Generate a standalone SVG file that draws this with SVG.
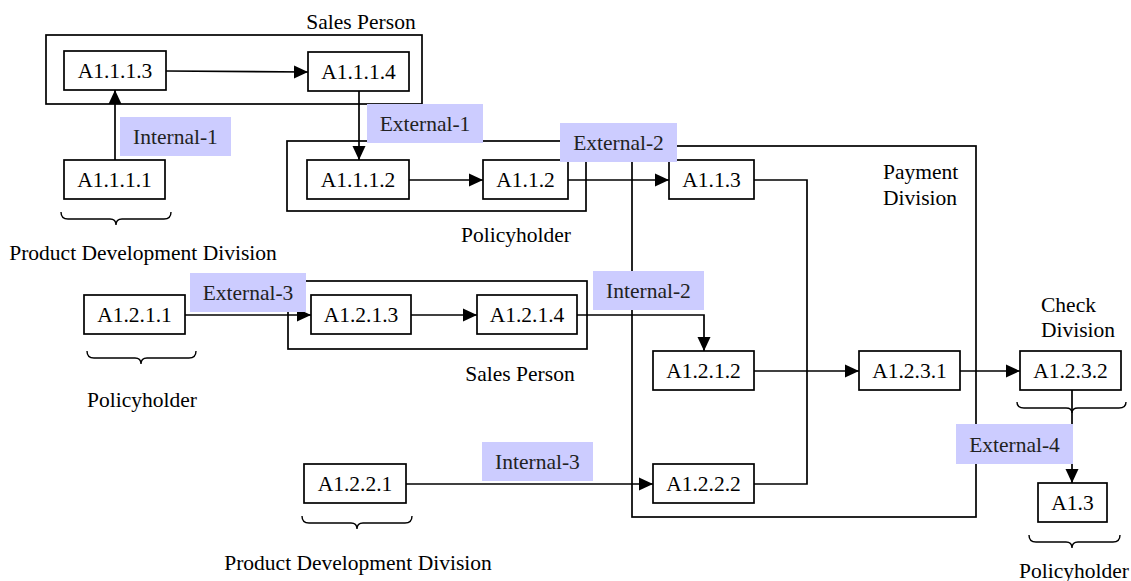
<svg xmlns="http://www.w3.org/2000/svg" width="1131" height="581" viewBox="0 0 1131 581" font-family="'Liberation Serif', 'DejaVu Serif', 'Times New Roman', serif" font-size="21.5">
<style>
text{font-family:'Liberation Serif','DejaVu Serif','Times New Roman',serif;font-size:21.5px;fill:#000}
.n rect{fill:#fff;stroke:#000;stroke-width:1.7}
.n text{text-anchor:middle}
.grp{fill:none;stroke:#000;stroke-width:1.7}
.lbl rect{fill:#ccccff;stroke:none}
.lbl text{text-anchor:middle;fill:#222}
.c{fill:none;stroke:#000;stroke-width:1.7}
.a{marker-end:url(#ah)}
.br{fill:none;stroke:#000;stroke-width:1.4}
.mid{text-anchor:middle}
</style>
<defs>
<marker id="ah" markerUnits="userSpaceOnUse" markerWidth="14" markerHeight="14" refX="14" refY="7" orient="auto">
<path d="M0,0.5 L14,7 L0,13.5 z" fill="#000"/>
</marker>
</defs>
<rect width="1131" height="581" fill="#fff"/>

<g id="groups">
<rect class="grp" x="46" y="35" width="376" height="69"/>
<rect class="grp" x="287" y="141" width="299" height="70"/>
<rect class="grp" x="288" y="281" width="299" height="68"/>
<rect class="grp" x="632" y="146" width="344" height="371"/>
</g>

<g id="connectors">
<path class="c a" d="M115,160 L115,90"/>
<path class="c a" d="M166,71 L308,72"/>
<path class="c a" d="M359,91 L359,160"/>
<path class="c a" d="M409,180 L483,180"/>
<path class="c a" d="M568,180 L669,180"/>
<path class="c" d="M754,180 L807,180 L807,371"/>
<path class="c" d="M754,484 L807,484 L807,371"/>
<path class="c a" d="M185,315 L311,315"/>
<path class="c a" d="M411,315 L477,315"/>
<path class="c a" d="M577,315 L704,315 L704,351"/>
<path class="c a" d="M754,371 L859,371"/>
<path class="c a" d="M960,371 L1020,371"/>
<path class="c a" d="M1072,390 L1072,483"/>
<path class="c a" d="M406,484 L653,484"/>
</g>

<g id="braces">
<path class="br" d="M61,212 Q61,219 68,219 L110,219 Q116,219 116,225 Q116,219 122,219 L164,219 Q171,219 171,212"/>
<path class="br" d="M87,351 Q87,358 94,358 L135,358 Q141,358 141,364 Q141,358 147,358 L189,358 Q196,358 196,351"/>
<path class="br" d="M302,516 Q302,523 309,523 L351,523 Q357,523 357,529 Q357,523 363,523 L405,523 Q412,523 412,516"/>
<path class="br" d="M1017,402 Q1017,408 1024,408 L1066,408 Q1072,408 1072,413 Q1072,408 1078,408 L1119,408 Q1126,408 1126,402"/>
<path class="br" d="M1029,535 Q1029,542 1036,542 L1066,542 Q1072,542 1072,548 Q1072,542 1078,542 L1113,542 Q1120,542 1120,535"/>
</g>

<g id="A1.1.1.3" class="n"><rect x="64" y="51" width="102" height="39"/><text x="115" y="78">A1.1.1.3</text></g>
<g id="A1.1.1.4" class="n"><rect x="308" y="52" width="101" height="39"/><text x="358.5" y="79">A1.1.1.4</text></g>
<g id="A1.1.1.1" class="n"><rect x="64" y="160" width="101" height="39"/><text x="114.5" y="187">A1.1.1.1</text></g>
<g id="A1.1.1.2" class="n"><rect x="307" y="160" width="102" height="39"/><text x="358" y="187">A1.1.1.2</text></g>
<g id="A1.1.2" class="n"><rect x="483" y="160" width="85" height="39"/><text x="525.5" y="187">A1.1.2</text></g>
<g id="A1.1.3" class="n"><rect x="669" y="160" width="85" height="39"/><text x="711.5" y="187">A1.1.3</text></g>
<g id="A1.2.1.1" class="n"><rect x="84" y="295" width="101" height="39"/><text x="134.5" y="322">A1.2.1.1</text></g>
<g id="A1.2.1.3" class="n"><rect x="311" y="295" width="100" height="39"/><text x="361" y="322">A1.2.1.3</text></g>
<g id="A1.2.1.4" class="n"><rect x="477" y="295" width="100" height="39"/><text x="527" y="322">A1.2.1.4</text></g>
<g id="A1.2.1.2" class="n"><rect x="653" y="351" width="101" height="39"/><text x="703.5" y="378">A1.2.1.2</text></g>
<g id="A1.2.3.1" class="n"><rect x="859" y="351" width="101" height="39"/><text x="909.5" y="378">A1.2.3.1</text></g>
<g id="A1.2.3.2" class="n"><rect x="1020" y="351" width="101" height="39"/><text x="1070.5" y="378">A1.2.3.2</text></g>
<g id="A1.2.2.1" class="n"><rect x="304" y="464" width="102" height="39"/><text x="355" y="491">A1.2.2.1</text></g>
<g id="A1.2.2.2" class="n"><rect x="653" y="464" width="101" height="39"/><text x="703.5" y="491">A1.2.2.2</text></g>
<g id="A1.3" class="n"><rect x="1038" y="483" width="69" height="39"/><text x="1072.5" y="510">A1.3</text></g>

<g id="labels">
<g class="lbl" id="Internal-1"><rect x="120" y="117" width="111" height="39"/><text x="175.5" y="144">Internal-1</text></g>
<g class="lbl" id="External-1"><rect x="367" y="104" width="116" height="39"/><text x="425" y="131">External-1</text></g>
<g class="lbl" id="External-2"><rect x="560" y="123" width="117" height="39"/><text x="618.5" y="150">External-2</text></g>
<g class="lbl" id="External-3"><rect x="190" y="273" width="116" height="39"/><text x="248" y="300">External-3</text></g>
<g class="lbl" id="Internal-2"><rect x="593" y="271" width="111" height="39"/><text x="648.5" y="298">Internal-2</text></g>
<g class="lbl" id="Internal-3"><rect x="482" y="442" width="111" height="39"/><text x="537.5" y="469">Internal-3</text></g>
<g class="lbl" id="External-4"><rect x="956" y="424" width="117" height="40"/><text x="1014.5" y="452">External-4</text></g>
</g>

<g id="group-titles">
<text class="mid" x="361" y="29">Sales Person</text>
<text class="mid" x="143" y="260">Product Development Division</text>
<text class="mid" x="516" y="242">Policyholder</text>
<text x="883" y="179">Payment</text>
<text x="883" y="205">Division</text>
<text class="mid" x="520" y="381">Sales Person</text>
<text class="mid" x="142" y="407">Policyholder</text>
<text x="1041" y="312">Check</text>
<text x="1041" y="337">Division</text>
<text class="mid" x="358" y="570">Product Development Division</text>
<text class="mid" x="1074" y="578">Policyholder</text>
</g>
</svg>
